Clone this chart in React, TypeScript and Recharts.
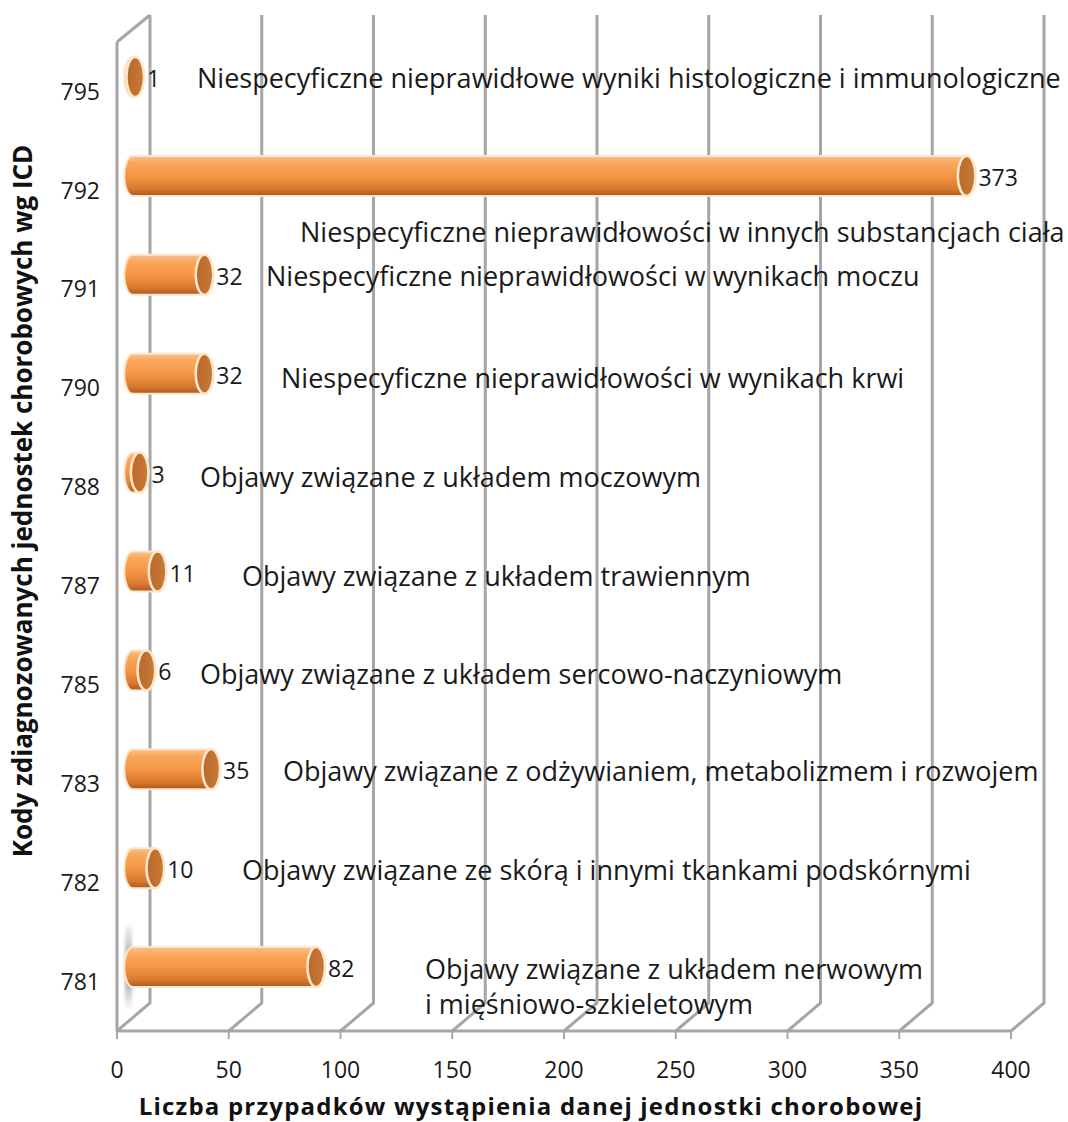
import React from "react";
import { BarChart, Bar, XAxis, YAxis, CartesianGrid, LabelList } from "recharts";

const codes = ["795", "792", "791", "790", "788", "787", "785", "783", "782", "781"];
const counts = [1, 373, 32, 32, 3, 11, 6, 35, 10, 82];
const descriptions = [
  "Niespecyficzne nieprawidłowe wyniki histologiczne i immunologiczne",
  "Niespecyficzne nieprawidłowości w innych substancjach ciała",
  "Niespecyficzne nieprawidłowości w wynikach moczu",
  "Niespecyficzne nieprawidłowości w wynikach krwi",
  "Objawy związane z układem moczowym",
  "Objawy związane z układem trawiennym",
  "Objawy związane z układem sercowo-naczyniowym",
  "Objawy związane z odżywianiem, metabolizmem i rozwojem",
  "Objawy związane ze skórą i innymi tkankami podskórnymi",
  "Objawy związane z układem nerwowym\ni mięśniowo-szkieletowym",
];
const xTicks = [0, 50, 100, 150, 200, 250, 300, 350, 400];

// where each description sits: absolute x of the text start, y shift from the bar axis
const descX = [197, 300, 266, 281, 200, 242, 200, 283, 242, 425];
const descDy = [0, 55, 0, 3, 3, 3, 3, 1, 1, 1];

const rows = codes.map((code, i) => ({ code, count: counts[i], desc: descriptions[i] }));

const FONT = "'Open Sans', sans-serif";
const GRID = "#a6a6a6";
// depth shift of the 3D box: back wall sits up-right of the front plane
const DEPTH_X = 33;
const DEPTH_Y = 28;
// bars run through the middle of the box
const MID_X = 16;
const MID_Y = 14;

function Cylinder(props: any) {
  const { x, y, width, height, index } = props;
  const x0 = x + MID_X;
  const x1 = x0 + Math.max(width, 0);
  const top = y - MID_Y;
  const h = height;
  const cy = top + h / 2;
  const rx = h * 0.22;
  return (
    <g>
      {index === codes.length - 1 && (
        <rect x={x0 - 8} y={top - 22} width={7} height={h + 44} rx={3} fill="url(#wallShade)" filter="url(#soft)" />
      )}
      <ellipse cx={x0} cy={cy} rx={rx} ry={h / 2} fill="url(#cylBody)" stroke="#fde6cc" strokeWidth={2} />
      <rect x={x0} y={top} width={x1 - x0} height={h} fill="url(#cylBody)" />
      <line x1={x0} y1={top} x2={x1} y2={top} stroke="#fde6cc" strokeWidth={2} />
      <line x1={x0} y1={top + h} x2={x1} y2={top + h} stroke="#fde6cc" strokeWidth={2} />
      <ellipse cx={x1} cy={cy} rx={rx} ry={h / 2} fill="url(#cylCap)" stroke="#fde6cc" strokeWidth={2.5} />
    </g>
  );
}

function ValueLabel(props: any) {
  const { x, y, width, height, value } = props;
  const end = x + MID_X + Math.max(width, 0) + 40 * 0.22;
  return (
    <text x={end + 3} y={y - MID_Y + height / 2 + 1} fontFamily={FONT} fontSize={23} fill="#1a1a1a" dominantBaseline="central">
      {value}
    </text>
  );
}

function DescLabel(props: any) {
  const { y, height, value } = props;
  const i = descriptions.indexOf(value);
  const cy = y - MID_Y + height / 2 + descDy[i];
  const lines = String(value).split("\n");
  return (
    <text x={descX[i]} y={cy} fontFamily={FONT} fontSize={27} fill="#1a1a1a" dominantBaseline="central">
      {lines.map((ln, k) => (
        <tspan key={k} x={descX[i]} dy={k === 0 ? 0 : 35}>
          {ln}
        </tspan>
      ))}
    </text>
  );
}

// each vertical grid line becomes the floor slant plus the back-wall upright
function WallLine(props: any) {
  const { x1, y1, y2, index } = props;
  const bx = x1 + DEPTH_X;
  const isLeft = index === 0;
  return (
    <g key={`wall-${index}`}>
      <path
        d={`M${x1},${y2} L${bx},${y2 - DEPTH_Y} L${bx},${y1 - DEPTH_Y + 1}`}
        fill="none"
        stroke={GRID}
        strokeWidth={3}
      />
      {isLeft && <path d={`M${x1},${y1} L${bx},${y1 - DEPTH_Y + 1}`} fill="none" stroke={GRID} strokeWidth={3} />}
    </g>
  );
}

export default function App() {
  return (
    <div style={{ position: "absolute", left: 0, top: 0, background: "#fff" }}>
      <BarChart
        width={1068}
        height={1122}
        layout="vertical"
        data={rows}
        margin={{ top: 42, right: 57, left: 0, bottom: 0 }}
        barSize={40}
      >
        <defs>
          <linearGradient id="cylBody" x1="0" y1="0" x2="0" y2="1">
            <stop offset="0%" stopColor="#f7c28e" />
            <stop offset="18%" stopColor="#faa75a" />
            <stop offset="50%" stopColor="#f49644" />
            <stop offset="82%" stopColor="#d9792f" />
            <stop offset="100%" stopColor="#a85a20" />
          </linearGradient>
          <linearGradient id="cylCap" x1="0" y1="0" x2="1" y2="0">
            <stop offset="0%" stopColor="#b8682a" />
            <stop offset="100%" stopColor="#c97b37" />
          </linearGradient>
          <linearGradient id="wallShade" x1="0" y1="0" x2="0" y2="1">
            <stop offset="0%" stopColor="#bdbdbd" stopOpacity={0.2} />
            <stop offset="35%" stopColor="#9a9a9a" stopOpacity={0.8} />
            <stop offset="70%" stopColor="#9a9a9a" stopOpacity={0.8} />
            <stop offset="100%" stopColor="#bdbdbd" stopOpacity={0.1} />
          </linearGradient>
          <filter id="soft" x="-1" y="-0.2" width="3" height="1.4">
            <feGaussianBlur stdDeviation="1.5" />
          </filter>
        </defs>
        <CartesianGrid horizontal={false} vertical={WallLine} />
        <XAxis
          type="number"
          domain={[0, 400]}
          ticks={xTicks}
          height={91}
          stroke={GRID}
          axisLine={{ stroke: GRID, strokeWidth: 3 }}
          tickLine={{ stroke: GRID, strokeWidth: 2 }}
          tickSize={8}
          tickMargin={23}
          tick={{ fontFamily: FONT, fontSize: 23, fill: "#1a1a1a" }}
          label={{
            content: () => (
              <text x={531} y={1115} textAnchor="middle" fontFamily={FONT} fontWeight={700} fontSize={24} letterSpacing={1.2} fill="#111">
                Liczba przypadków wystąpienia danej jednostki chorobowej
              </text>
            ),
          }}
        />
        <YAxis
          type="category"
          dataKey="code"
          width={117}
          axisLine={{ stroke: GRID, strokeWidth: 3 }}
          tickLine={false}
          tickSize={0}
          tickMargin={17}
          tick={{ fontFamily: FONT, fontSize: 23, fill: "#1a1a1a", dy: 0 }}
          label={{
            content: () => (
              <text
                transform="translate(22,501) rotate(-90)"
                textAnchor="middle"
                dominantBaseline="central"
                fontFamily={FONT}
                fontWeight={700}
                fontSize={26}
                fill="#111"
              >
                Kody zdiagnozowanych jednostek chorobowych wg ICD
              </text>
            ),
          }}
        />
        <Bar dataKey="count" shape={Cylinder} isAnimationActive={false}>
          <LabelList dataKey="count" content={ValueLabel} />
          <LabelList dataKey="desc" content={DescLabel} />
        </Bar>
      </BarChart>
    </div>
  );
}
